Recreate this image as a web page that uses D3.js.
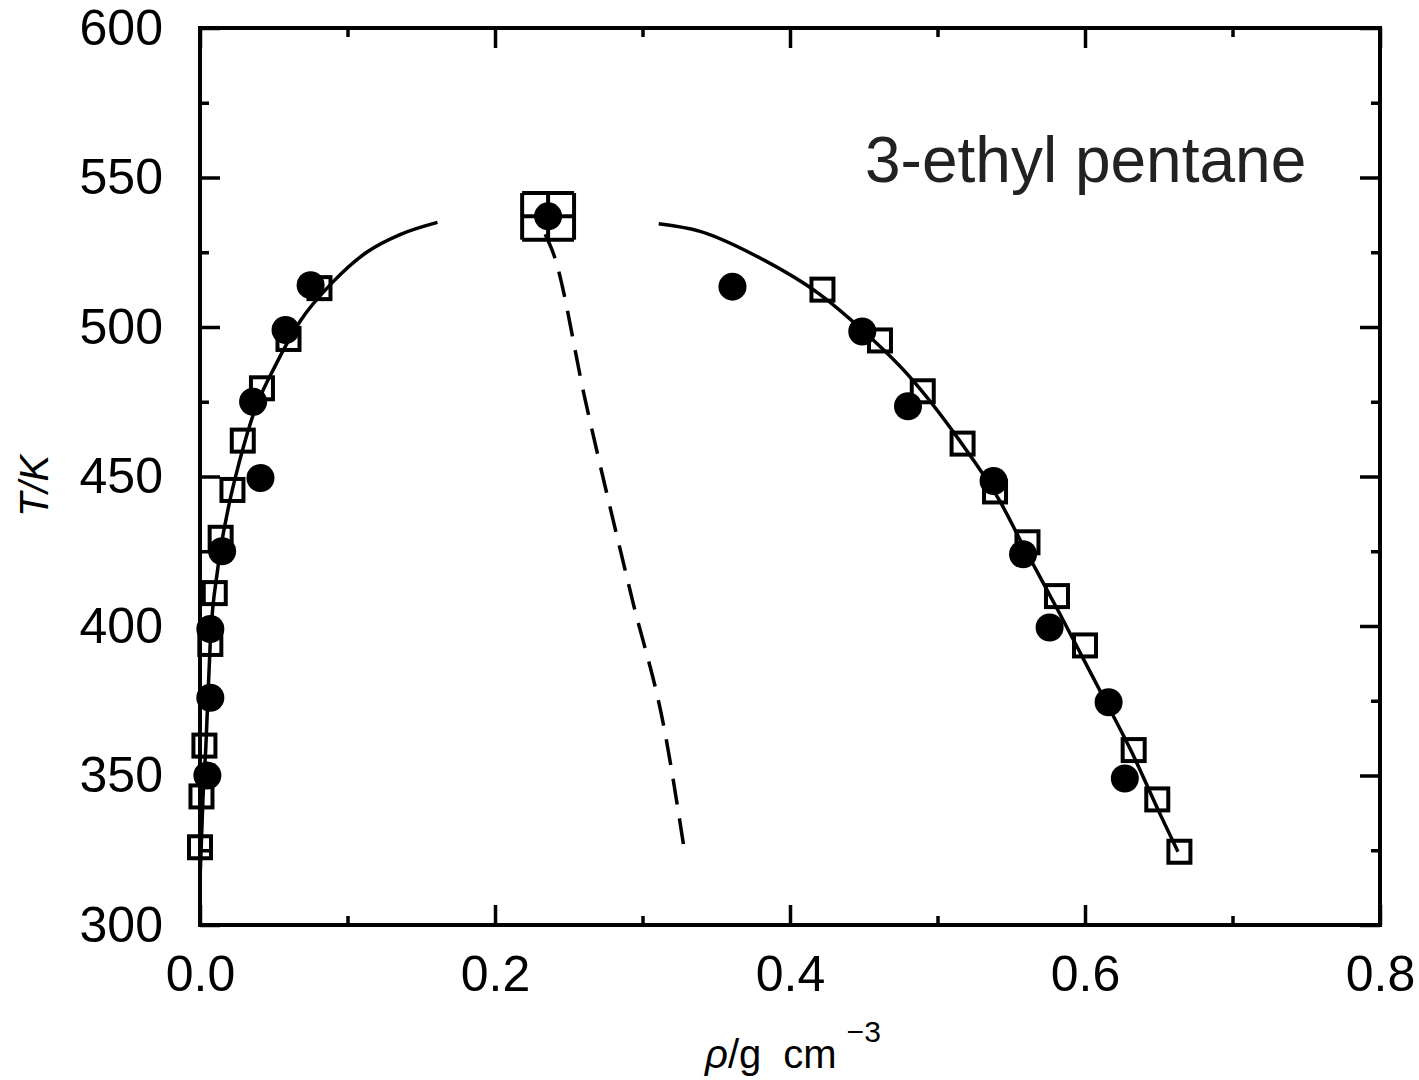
<!DOCTYPE html>
<html>
<head>
<meta charset="utf-8">
<script src="https://cdn.jsdelivr.net/npm/d3@7"></script>
<style>
  body { margin: 0; background: #fff; }
  text { font-family: "Liberation Sans", Arial, sans-serif; }
</style>
</head>
<body>
<div id="chart"></div>
<script>
// coexistence data, rho in g cm^-3, T in K
const circlesRho = [0.005, 0.007, 0.007, 0.015, 0.041, 0.036, 0.058, 0.075,
                    0.361, 0.449, 0.480, 0.538, 0.558, 0.576, 0.616, 0.627];
const circlesT   = [350, 376, 399, 425, 449.5, 475, 499, 514,
                    513.5, 498.5, 473.5, 448.5, 424, 399.5, 374.5, 349];

const squaresRho = [0.000, 0.001, 0.003, 0.007, 0.010, 0.014, 0.022, 0.029, 0.042, 0.060, 0.081,
                    0.422, 0.461, 0.490, 0.517, 0.539, 0.561, 0.581, 0.600, 0.633, 0.649, 0.664];
const squaresT   = [326, 343, 360, 394, 411, 429.5, 445.5, 462, 479.5, 496, 513,
                    512.5, 495.5, 478.5, 461, 445, 428, 410, 393.5, 358.5, 342, 324.5];

// critical point with error bars
const critRho = 0.236, critT = 537;
const critRhoErr = 0.0176, critTErr = 7.8;

// fitted coexistence curve (vapour and liquid branches)
const vapRho = [0.000, 0.002, 0.004, 0.007, 0.012, 0.019, 0.027, 0.037, 0.051, 0.068, 0.090, 0.113, 0.136, 0.161];
const vapT   = [315, 342, 360, 395, 419, 439, 455.5, 472, 487, 502, 515, 525, 531, 535];
const liqRho = [0.311, 0.339, 0.380, 0.420, 0.449, 0.480, 0.515, 0.542, 0.559, 0.583, 0.610, 0.631, 0.651, 0.663];
const liqT   = [534.5, 532, 523, 511, 499, 484, 462, 442, 426, 404, 378.5, 358.5, 337, 324.5];

// rectilinear diameter (dashed)
const diamRho = [0.234, 0.240, 0.261, 0.293, 0.315, 0.329];
const diamT   = [531, 524, 476, 409, 365, 323];

const xMajor = [0.0, 0.2, 0.4, 0.6, 0.8];
const xMinor = [0.1, 0.3, 0.5, 0.7];
const yMajor = [300, 350, 400, 450, 500, 550, 600];
const yMinor = [325, 375, 425, 475, 525, 575];

const margin = { top: 28, right: 39, bottom: 155, left: 200 };
const W = 1419, H = 1080;
const width = W - margin.left - margin.right;
const height = H - margin.top - margin.bottom;

const svg = d3.select("#chart").append("svg")
    .attr("width", W)
    .attr("height", H);

const g = svg.append("g")
    .attr("transform", `translate(${margin.left},${margin.top})`);

const x = d3.scaleLinear().domain([0, 0.8]).range([0, width]);
const y = d3.scaleLinear().domain([300, 600]).range([height, 0]);

// axes, ticks pointing inward
function styleAxis(sel) {
    sel.select(".domain").remove();
    sel.selectAll(".tick line").attr("stroke", "#000").attr("stroke-width", 3.5);
    sel.selectAll(".tick text").attr("fill", "#000").style("font-size", "50px");
}

g.append("g").attr("transform", `translate(0,${height})`)
    .call(d3.axisBottom(x).tickValues(xMajor).tickFormat(d3.format(".1f")).tickSize(-20).tickPadding(30))
    .call(styleAxis);
g.append("g").attr("transform", `translate(0,${height})`)
    .call(d3.axisBottom(x).tickValues(xMinor).tickFormat("").tickSize(-9))
    .call(styleAxis);
g.append("g")
    .call(d3.axisTop(x).tickValues(xMajor).tickFormat("").tickSize(-20))
    .call(styleAxis);
g.append("g")
    .call(d3.axisTop(x).tickValues(xMinor).tickFormat("").tickSize(-9))
    .call(styleAxis);

g.append("g")
    .call(d3.axisLeft(y).tickValues(yMajor).tickFormat(d3.format("d")).tickSize(-20).tickPadding(37))
    .call(styleAxis);
g.append("g")
    .call(d3.axisLeft(y).tickValues(yMinor).tickFormat("").tickSize(-9))
    .call(styleAxis);
g.append("g").attr("transform", `translate(${width},0)`)
    .call(d3.axisRight(y).tickValues(yMajor).tickFormat("").tickSize(-20))
    .call(styleAxis);
g.append("g").attr("transform", `translate(${width},0)`)
    .call(d3.axisRight(y).tickValues(yMinor).tickFormat("").tickSize(-9))
    .call(styleAxis);

g.append("rect")
    .attr("width", width)
    .attr("height", height)
    .attr("fill", "none")
    .attr("stroke", "#000")
    .attr("stroke-width", 4);

// curves
const line = d3.line()
    .x(d => x(d[0]))
    .y(d => y(d[1]))
    .curve(d3.curveMonotoneX);

g.append("path")
    .datum(d3.zip(vapRho, vapT))
    .attr("d", line)
    .attr("fill", "none")
    .attr("stroke", "#000")
    .attr("stroke-width", 3.5);

g.append("path")
    .datum(d3.zip(liqRho, liqT))
    .attr("d", line)
    .attr("fill", "none")
    .attr("stroke", "#000")
    .attr("stroke-width", 3.5);

g.append("path")
    .datum(d3.zip(diamRho, diamT))
    .attr("d", line)
    .attr("fill", "none")
    .attr("stroke", "#000")
    .attr("stroke-width", 3.5)
    .attr("stroke-dasharray", "26,14");

// open squares
const sq = 22;
g.selectAll(".sq")
    .data(d3.zip(squaresRho, squaresT))
    .enter().append("rect")
    .attr("class", "sq")
    .attr("x", d => x(d[0]) - sq / 2)
    .attr("y", d => y(d[1]) - sq / 2)
    .attr("width", sq)
    .attr("height", sq)
    .attr("fill", "none")
    .attr("stroke", "#000")
    .attr("stroke-width", 4);

// filled circles
g.selectAll(".dot")
    .data(d3.zip(circlesRho, circlesT))
    .enter().append("circle")
    .attr("class", "dot")
    .attr("cx", d => x(d[0]))
    .attr("cy", d => y(d[1]))
    .attr("r", 14)
    .attr("fill", "#000");

// critical point
const cx = x(critRho), cy = y(critT);
const x0 = x(critRho - critRhoErr), x1 = x(critRho + critRhoErr);
const y0 = y(critT + critTErr), y1 = y(critT - critTErr);
const crit = g.append("g").attr("stroke", "#000").attr("stroke-width", 4).attr("fill", "none");
crit.append("line").attr("x1", x0).attr("x2", x1).attr("y1", cy).attr("y2", cy);
crit.append("line").attr("x1", cx).attr("x2", cx).attr("y1", y0).attr("y2", y1);
crit.append("line").attr("x1", x0).attr("x2", x0).attr("y1", y0).attr("y2", y1);
crit.append("line").attr("x1", x1).attr("x2", x1).attr("y1", y0).attr("y2", y1);
crit.append("line").attr("x1", x0).attr("x2", x1).attr("y1", y0).attr("y2", y0);
crit.append("line").attr("x1", x0).attr("x2", x1).attr("y1", y1).attr("y2", y1);
g.append("circle").attr("cx", cx).attr("cy", cy).attr("r", 14).attr("fill", "#000");

// labels
svg.append("text")
    .attr("x", 865)
    .attr("y", 182)
    .attr("fill", "#222")
    .style("font-size", "64px")
    .text("3-ethyl pentane");

const xt = svg.append("text")
    .attr("x", 705)
    .attr("y", 1068)
    .attr("fill", "#000")
    .style("font-size", "40px");
xt.append("tspan").style("font-style", "italic").text("ρ");
xt.append("tspan").text("/g");
xt.append("tspan").attr("dx", 22).text("cm");
xt.append("tspan").attr("dx", 10).attr("dy", -26).style("font-size", "30px").text("−3");

svg.append("text")
    .attr("transform", "translate(48,486) rotate(-90)")
    .attr("text-anchor", "middle")
    .attr("fill", "#000")
    .style("font-size", "40px")
    .style("font-style", "italic")
    .text("T/K");
</script>
</body>
</html>
